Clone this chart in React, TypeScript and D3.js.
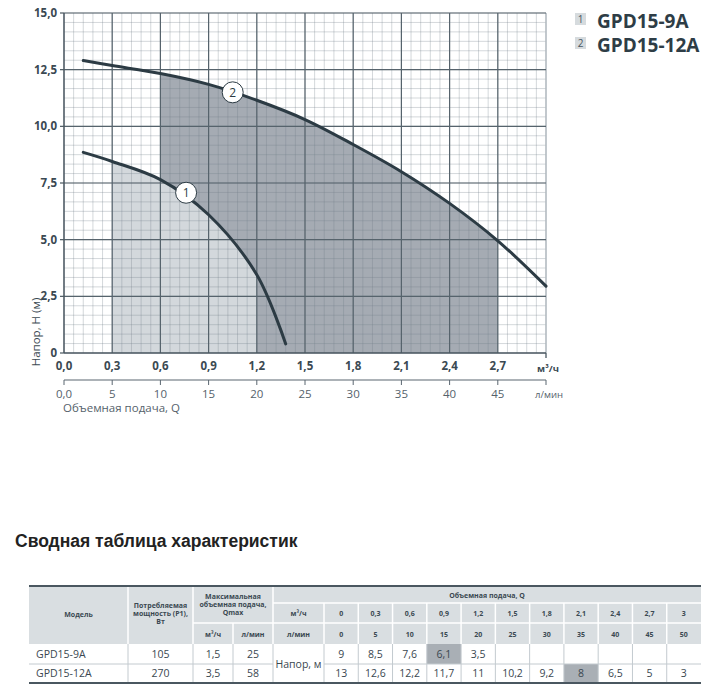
import React from "react";
import * as d3 from "d3";

// ---- data ----
const xTicksM3 = [0, 0.3, 0.6, 0.9, 1.2, 1.5, 1.8, 2.1, 2.4, 2.7];
const xTicksL = [0, 5, 10, 15, 20, 25, 30, 35, 40, 45];
const yTicks = [0, 2.5, 5, 7.5, 10, 12.5, 15];

const curve1Q = [0.12, 0.3, 0.6, 0.9, 1.2, 1.38];
const curve1H = [8.85, 8.45, 7.65, 6.1, 3.45, 0.4];
const curve2Q = [0.12, 0.3, 0.6, 0.9, 1.2, 1.5, 1.8, 2.1, 2.4, 2.7, 3.0];
const curve2H = [12.9, 12.68, 12.33, 11.85, 11.15, 10.3, 9.2, 8.0, 6.6, 4.95, 2.95];

const models = ["GPD15-9A", "GPD15-12A"];
const powerW = [105, 270];
const qmaxM3 = [1.5, 3.5];
const qmaxL = [25, 58];
const tableQM3 = [0, 0.3, 0.6, 0.9, 1.2, 1.5, 1.8, 2.1, 2.4, 2.7, 3];
const tableQL = [0, 5, 10, 15, 20, 25, 30, 35, 40, 45, 50];
const head1 = [9, 8.5, 7.6, 6.1, 3.5, null, null, null, null, null, null];
const head2 = [13, 12.6, 12.2, 11.7, 11, 10.2, 9.2, 8, 6.5, 5, 3];
const highlight = [[0, 3], [1, 7]];

const fmt = (v: number) => String(v).replace(".", ",");
const fmt1 = (v: number) => d3.format(".1f")(v).replace(".", ",");

const FONT = "'Open Sans', 'DejaVu Sans', sans-serif";
const DARK = "#2c3b44";
const TXT = "#3b4952";

export default function App() {
  const x = d3.scaleLinear().domain([0, 3]).range([64, 546]);
  const xl = d3.scaleLinear().domain([0, 50]).range([64, 546]);
  const y = d3.scaleLinear().domain([0, 15]).range([353, 13]);

  const pts1 = curve1Q.map((q, i) => [q, curve1H[i]] as [number, number]);
  const pts2 = curve2Q.map((q, i) => [q, curve2H[i]] as [number, number]);
  const crv = d3.curveCatmullRom.alpha(0.5);
  const line = d3
    .line<[number, number]>()
    .x((d) => x(d[0]))
    .y((d) => y(d[1]))
    .curve(crv);
  const area = d3
    .area<[number, number]>()
    .x((d) => x(d[0]))
    .y0(y(0))
    .y1((d) => y(d[1]))
    .curve(crv);

  const minorX = d3.range(0, 3.0001, 0.06);
  const minorY = d3.range(0, 15.0001, 2.5 / 6);
  const majorX = d3.range(0.3, 2.71, 0.3);
  const majorY = [2.5, 5, 7.5, 10, 12.5, 15];

  // table geometry
  const valW = (701 - 324) / 11;
  const vx = (i: number) => 324 + i * valW;
  const rowY = [586, 603, 623, 644, 664, 683];

  const hdrStyle = { fontFamily: FONT, fontSize: 7, fontWeight: 700, fill: TXT } as const;
  const cellStyle = { fontFamily: FONT, fontSize: 10.5, fill: "#3a4750" } as const;

  return (
    <svg
      width={721}
      height={691}
      style={{ position: "absolute", left: 0, top: 0, background: "#fff" }}
    >
      <defs>
        <clipPath id="clipDark">
          <rect x={x(0.6)} y={0} width={x(2.7) - x(0.6)} height={y(0)} />
        </clipPath>
        <clipPath id="clipLight">
          <rect x={x(0.3)} y={0} width={x(1.2) - x(0.3)} height={y(0)} />
        </clipPath>
      </defs>

      {/* shaded areas */}
      <path d={area(pts2) || ""} fill="#a5abb3" clipPath="url(#clipDark)" />
      <path d={area(pts1) || ""} fill="#d3d8dc" clipPath="url(#clipLight)" />

      {/* minor grid */}
      <g stroke="#6f7d88" strokeOpacity={0.3} strokeWidth={1}>
        {minorX.map((v, i) => (
          <line key={"mx" + i} x1={x(v)} x2={x(v)} y1={y(0)} y2={y(15)} />
        ))}
        {minorY.map((v, i) => (
          <line key={"my" + i} x1={x(0)} x2={x(3)} y1={y(v)} y2={y(v)} />
        ))}
      </g>
      {/* right border */}
      <line x1={x(3)} x2={x(3)} y1={y(15)} y2={y(0) + 5} stroke="#b4bcc2" strokeWidth={1.5} />
      {/* major grid */}
      <g stroke="#56636c" strokeWidth={1.2}>
        {majorX.map((v, i) => (
          <line key={"Mx" + i} x1={x(v)} x2={x(v)} y1={y(0)} y2={y(15)} />
        ))}
        {majorY.map((v, i) => (
          <line key={"My" + i} x1={x(0)} x2={x(3)} y1={y(v)} y2={y(v)} />
        ))}
      </g>
      {/* axes */}
      <line x1={x(0)} x2={x(0)} y1={y(15)} y2={y(0)} stroke="#4a5760" strokeWidth={1.5} />
      <line x1={x(0)} x2={x(3)} y1={y(0)} y2={y(0)} stroke="#4a5760" strokeWidth={1.5} />
      {yTicks.map((v, i) => (
        <line key={"yt" + i} x1={x(0) - 4} x2={x(0)} y1={y(v)} y2={y(v)} stroke="#4a5760" strokeWidth={1.2} />
      ))}

      {/* curves */}
      <path d={line(pts2) || ""} fill="none" stroke={DARK} strokeWidth={3} strokeLinecap="round" />
      <path d={line(pts1) || ""} fill="none" stroke={DARK} strokeWidth={3} strokeLinecap="round" />

      {/* curve labels */}
      {[
        { q: 0.76, h: 7.07, t: "1" },
        { q: 1.05, h: 11.5, t: "2" },
      ].map((l) => (
        <g key={l.t}>
          <circle cx={x(l.q)} cy={y(l.h)} r={10.5} fill="#fff" stroke={DARK} strokeWidth={1} />
          <text x={x(l.q)} y={y(l.h)} dy="0.36em" textAnchor="middle" fontFamily={FONT} fontSize={12} fill={DARK}>
            {l.t}
          </text>
        </g>
      ))}

      {/* y tick labels */}
      {yTicks.map((v, i) => (
        <text key={"yl" + i} x={57} y={y(v)} dy="0.36em" textAnchor="end" fontFamily={FONT} fontSize={11.5} fontWeight={700} fill={TXT}>
          {v === 0 ? "0" : fmt1(v)}
        </text>
      ))}
      <text transform={`translate(40,332) rotate(-90)`} textAnchor="middle" fontFamily={FONT} fontSize={11.5} fill={TXT}>
        Напор, Н (м)
      </text>

      {/* x tick labels (m3/h) */}
      {xTicksM3.map((v, i) => (
        <text key={"xl" + i} x={x(v)} y={366} dy="0.36em" textAnchor="middle" fontFamily={FONT} fontSize={11.5} fontWeight={700} fill={TXT}>
          {fmt1(v)}
        </text>
      ))}
      <line x1={x(3)} x2={x(3)} y1={y(0)} y2={y(0) + 5} stroke="#4a5760" strokeWidth={1} />
      <text x={548} y={369} dy="0.36em" textAnchor="middle" fontFamily={FONT} fontSize={9.5} fontWeight={700} fill={TXT}>
        м³/ч
      </text>

      {/* second axis l/min */}
      <line x1={xl(0)} x2={xl(50)} y1={380} y2={380} stroke="#5a6670" strokeWidth={1.2} />
      {[...xTicksL, 50].map((v, i) => (
        <line key={"lt" + i} x1={xl(v)} x2={xl(v)} y1={380} y2={385} stroke="#5a6670" strokeWidth={1} />
      ))}
      {xTicksL.map((v, i) => (
        <text key={"ll" + i} x={xl(v)} y={394} dy="0.36em" textAnchor="middle" fontFamily={FONT} fontSize={11.5} fill="#55626b">
          {v === 0 ? "0,0" : String(v)}
        </text>
      ))}
      <text x={549} y={395} dy="0.36em" textAnchor="middle" fontFamily={FONT} fontSize={9.5} fill="#55626b">
        л/мин
      </text>
      <text x={63} y={408} dy="0.36em" fontFamily={FONT} fontSize={11.5} fill="#55626b">
        Объемная подача, Q
      </text>

      {/* legend */}
      {models.map((m, i) => (
        <g key={m}>
          <rect x={575} y={13 + i * 24} width={11} height={12} fill="#d6dbde" />
          <text x={580.5} y={19 + i * 24} dy="0.36em" textAnchor="middle" fontFamily={FONT} fontSize={10} fill="#4a5760">
            {i + 1}
          </text>
          <text x={597} y={21 + i * 24} dy="0.36em" fontFamily={FONT} fontSize={19} fontWeight={700} fill="#2e3d46">
            {m}
          </text>
        </g>
      ))}

      {/* title */}
      <text x={15} y={547} fontFamily="'Liberation Sans', Arial, sans-serif" fontSize={17.5} fontWeight={700} fill="#222">
        Сводная таблица характеристик
      </text>

      {/* table header background */}
      <rect x={29} y={rowY[0]} width={701 - 29} height={rowY[3] - rowY[0]} fill="#d9dee1" />
      {/* highlighted cells */}
      {highlight.map(([r, c]) => (
        <rect key={`h${r}${c}`} x={vx(c)} y={rowY[3 + r]} width={valW} height={rowY[4 + r] - rowY[3 + r]} fill="#a9afb5" />
      ))}
      {/* header separators (white) */}
      <g stroke="#fff" strokeWidth={1.5}>
        <line x1={128} x2={128} y1={rowY[0]} y2={rowY[3]} />
        <line x1={193} x2={193} y1={rowY[0]} y2={rowY[3]} />
        <line x1={233} x2={233} y1={rowY[2]} y2={rowY[3]} />
        <line x1={273} x2={273} y1={rowY[0]} y2={rowY[3]} />
        <line x1={193} x2={273} y1={rowY[2]} y2={rowY[2]} />
        <line x1={273} x2={701} y1={rowY[1]} y2={rowY[1]} />
        <line x1={273} x2={701} y1={rowY[2]} y2={rowY[2]} />
        {tableQM3.map((_, i) => (
          <line key={"hs" + i} x1={vx(i)} x2={vx(i)} y1={rowY[1]} y2={rowY[3]} />
        ))}
      </g>
      {/* body separators */}
      <g stroke="#c3cacf" strokeWidth={1}>
        {[128, 193, 233, 273].map((cx) => (
          <line key={"bs" + cx} x1={cx} x2={cx} y1={rowY[3]} y2={rowY[5]} />
        ))}
        {tableQM3.map((_, i) => (
          <line key={"bv" + i} x1={vx(i)} x2={vx(i)} y1={rowY[3]} y2={rowY[5]} />
        ))}
        <line x1={29} x2={273} y1={rowY[4]} y2={rowY[4]} />
        <line x1={324} x2={701} y1={rowY[4]} y2={rowY[4]} />
      </g>
      <line x1={29} x2={701} y1={rowY[0]} y2={rowY[0]} stroke="#4a5760" strokeWidth={2} />
      <line x1={29} x2={701} y1={rowY[5]} y2={rowY[5]} stroke="#4a5760" strokeWidth={2} />

      {/* header texts */}
      <g textAnchor="middle">
        <text x={78.5} y={614} dy="0.36em" {...hdrStyle}>Модель</text>
        {["Потребляемая", "мощность (P1),", "Вт"].map((t, i) => (
          <text key={t} x={160.5} y={605 + i * 8.2} dy="0.36em" {...hdrStyle}>{t}</text>
        ))}
        {["Максимальная", "объемная подача,", "Qmax"].map((t, i) => (
          <text key={t} x={233} y={596.5 + i * 8.2} dy="0.36em" {...hdrStyle}>{t}</text>
        ))}
        <text x={213} y={634} dy="0.36em" {...hdrStyle}>м³/ч</text>
        <text x={253} y={634} dy="0.36em" {...hdrStyle}>л/мин</text>
        <text x={487} y={595} dy="0.36em" {...hdrStyle}>Объемная подача, Q</text>
        <text x={298.5} y={613} dy="0.36em" {...hdrStyle}>м³/ч</text>
        <text x={298.5} y={634} dy="0.36em" {...hdrStyle}>л/мин</text>
        {tableQM3.map((v, i) => (
          <text key={"qm" + i} x={vx(i) + valW / 2} y={613} dy="0.36em" {...hdrStyle}>{fmt(v)}</text>
        ))}
        {tableQL.map((v, i) => (
          <text key={"ql" + i} x={vx(i) + valW / 2} y={634} dy="0.36em" {...hdrStyle}>{v}</text>
        ))}
      </g>

      {/* body texts */}
      {models.map((m, r) => {
        const cy = (rowY[3 + r] + rowY[4 + r]) / 2;
        const vals = r === 0 ? head1 : head2;
        return (
          <g key={"row" + r}>
            <text x={36} y={cy} dy="0.36em" {...cellStyle}>{m}</text>
            <text x={160.5} y={cy} dy="0.36em" textAnchor="middle" {...cellStyle}>{powerW[r]}</text>
            <text x={213} y={cy} dy="0.36em" textAnchor="middle" {...cellStyle}>{fmt(qmaxM3[r])}</text>
            <text x={253} y={cy} dy="0.36em" textAnchor="middle" {...cellStyle}>{qmaxL[r]}</text>
            {vals.map((v, i) =>
              v === null ? null : (
                <text key={"v" + i} x={vx(i) + valW / 2} y={cy} dy="0.36em" textAnchor="middle" {...cellStyle}>
                  {fmt(v)}
                </text>
              )
            )}
          </g>
        );
      })}
      <text x={298.5} y={rowY[4]} dy="0.36em" textAnchor="middle" {...cellStyle}>Напор, м</text>
    </svg>
  );
}
